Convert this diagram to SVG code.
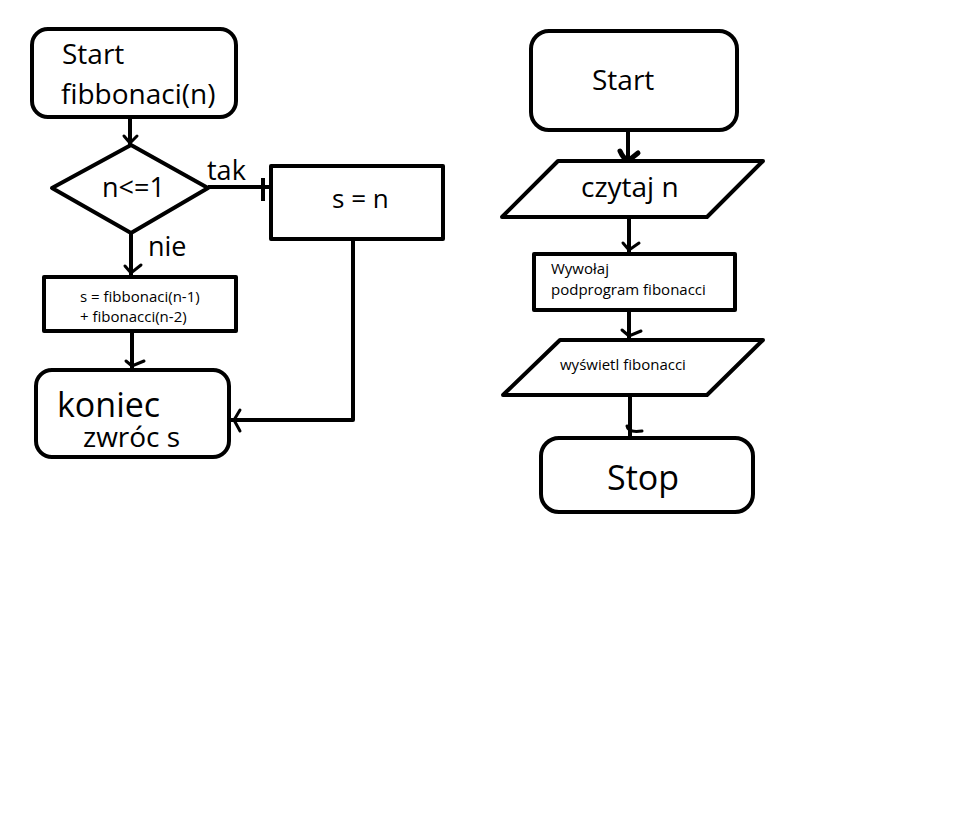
<svg xmlns="http://www.w3.org/2000/svg" width="956" height="818" viewBox="0 0 956 818">
<style>
.s{fill:#fff;stroke:#000;stroke-width:4;stroke-linejoin:round}
.c{fill:none;stroke:#000;stroke-width:4;stroke-linecap:butt;stroke-linejoin:round}
.h{fill:none;stroke:#000;stroke-width:3;stroke-linecap:round}
text{font-family:"Open Sans","Noto Sans","DejaVu Sans",sans-serif;fill:#000}
</style>
<rect width="956" height="818" fill="#fff"/>
<g id="connectors">
<line class="c" x1="130" y1="117" x2="130" y2="145"/>
<path class="h" d="M124,136 L130,143 L137,136"/>
<line class="c" x1="208" y1="187" x2="271" y2="187"/>
<line class="c" x1="263" y1="178" x2="263" y2="201"/>
<line class="c" x1="131" y1="233" x2="131" y2="277"/>
<path class="h" d="M125,266 L131,273 L141,265"/>
<polyline class="c" points="353,239 353,420 231,420"/>
<path class="h" d="M240,410 L234,420 L240,431"/>
<line class="c" x1="132" y1="331" x2="132" y2="370"/>
<path class="h" d="M126,361 L132,366 L144,361"/>
<line class="c" x1="628" y1="130" x2="628" y2="161"/>
<path d="M620,151 Q623,158 628,161 Q633,157 638,153" fill="none" stroke="#000" stroke-width="5" stroke-linecap="round"/>
<line class="c" x1="629" y1="217" x2="629" y2="254"/>
<path class="h" d="M623,243 L629,250 L639,243"/>
<line class="c" x1="629" y1="310" x2="629" y2="340"/>
<path class="h" d="M622,330 L629,336 L641,331"/>
<line class="c" x1="630" y1="395" x2="630" y2="438"/>
<path class="h" d="M627,426 Q628,433 642,431"/>
</g>
<g id="start-left">
<rect class="s" x="32" y="29" width="204" height="88" rx="16"/>
<text x="62" y="64" font-size="28">Start</text>
<text x="61" y="104" font-size="28">fibbonaci(n)</text>
</g>
<g id="decision">
<polygon class="s" points="52,188 131,145 208,188 131,233"/>
<text x="102" y="197" font-size="27">n&lt;=1</text>
</g>
<g id="label-tak"><text x="207" y="180" font-size="27">tak</text></g>
<g id="label-nie"><text x="148" y="256" font-size="27">nie</text></g>
<g id="assign-s-n">
<rect class="s" x="271" y="166" width="172" height="73"/>
<text x="332" y="208" font-size="26">s = n</text>
</g>
<g id="assign-recursive">
<rect class="s" x="44" y="277" width="192" height="54"/>
<text x="80" y="302" font-size="15">s = fibbonaci(n-1)</text>
<text x="80" y="322" font-size="15">+ fibonacci(n-2)</text>
</g>
<g id="koniec">
<rect class="s" x="36" y="370" width="193" height="87" rx="16"/>
<text x="57" y="417" font-size="34">koniec</text>
<text x="83" y="447" font-size="28">zwróc s</text>
</g>
<g id="start-right">
<rect class="s" x="531" y="31" width="206" height="99" rx="18"/>
<text x="592" y="90" font-size="28">Start</text>
</g>
<g id="read-n">
<polygon class="s" points="558,161 763,161 707,217 502,217"/>
<text x="581" y="197" font-size="28">czytaj n</text>
</g>
<g id="call-sub">
<rect class="s" x="534" y="254" width="201" height="56"/>
<text x="551" y="274" font-size="15">Wywołaj</text>
<text x="551" y="295" font-size="15">podprogram fibonacci</text>
</g>
<g id="print">
<polygon class="s" points="560,340 763,340 707,395 503,395"/>
<text x="560" y="370" font-size="15">wyświetl fibonacci</text>
</g>
<g id="stop">
<rect class="s" x="541" y="438" width="212" height="74" rx="18"/>
<text x="607" y="490" font-size="34">Stop</text>
</g>
</svg>
